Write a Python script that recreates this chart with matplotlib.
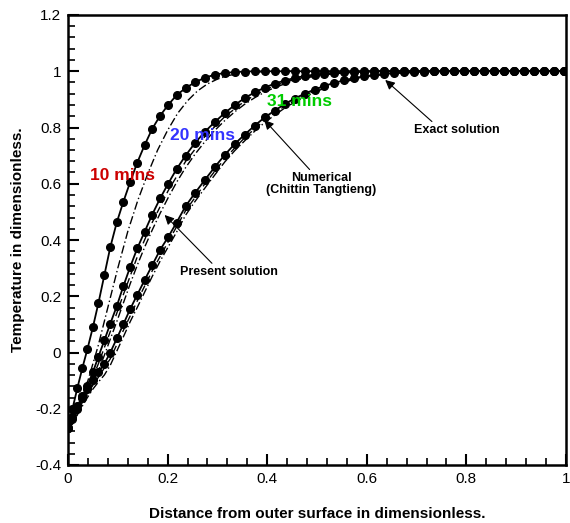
import matplotlib
matplotlib.use("Agg")
import matplotlib.pyplot as plt
from matplotlib.ticker import MultipleLocator

plt.rcParams['font.family'] = ['Liberation Sans', 'DejaVu Sans']

# Marker grid (shared by the dotted curves)
x_grid = [0.0, 0.009, 0.019, 0.029, 0.039, 0.050, 0.061, 0.073, 0.085, 0.098,
          0.111, 0.125, 0.139, 0.154, 0.169, 0.185, 0.201, 0.218, 0.236, 0.255,
          0.275, 0.295, 0.315, 0.335, 0.355, 0.375, 0.395, 0.415, 0.435, 0.455,
          0.475, 0.495, 0.515, 0.535, 0.555, 0.575, 0.595, 0.615, 0.635, 0.655,
          0.675, 0.695, 0.715, 0.735, 0.755, 0.775, 0.795, 0.815, 0.835, 0.855,
          0.875, 0.895, 0.915, 0.935, 0.955, 0.975, 0.995, 1.0]

num_10 = [-0.27, -0.20, -0.125, -0.054, 0.012, 0.09, 0.175, 0.275, 0.375, 0.463,
          0.535, 0.607, 0.675, 0.738, 0.795, 0.842, 0.88, 0.915, 0.94, 0.961,
          0.977, 0.988, 0.994, 0.997, 0.999, 1.0, 1.0, 1.0, 1.0, 1.0,
          1.0, 1.0, 1.0, 1.0, 1.0, 1.0, 1.0, 1.0, 1.0, 1.0,
          1.0, 1.0, 1.0, 1.0, 1.0, 1.0, 1.0, 1.0, 1.0, 1.0,
          1.0, 1.0, 1.0, 1.0, 1.0, 1.0, 1.0, 1.0]

num_20 = [-0.27, -0.23, -0.19, -0.155, -0.118, -0.07, -0.015, 0.043, 0.103, 0.165,
          0.235, 0.305, 0.37, 0.43, 0.49, 0.548, 0.60, 0.652, 0.70, 0.745,
          0.785, 0.82, 0.852, 0.88, 0.905, 0.925, 0.942, 0.956, 0.967, 0.976,
          0.983, 0.988, 0.992, 0.995, 0.997, 0.998, 0.999, 1.0, 1.0, 1.0,
          1.0, 1.0, 1.0, 1.0, 1.0, 1.0, 1.0, 1.0, 1.0, 1.0,
          1.0, 1.0, 1.0, 1.0, 1.0, 1.0, 1.0, 1.0]

num_31 = [-0.27, -0.237, -0.20, -0.163, -0.13, -0.097, -0.07, -0.04, 0.0, 0.05,
          0.10, 0.155, 0.205, 0.258, 0.31, 0.365, 0.41, 0.462, 0.52, 0.567,
          0.614, 0.66, 0.703, 0.742, 0.775, 0.807, 0.836, 0.86, 0.883, 0.903,
          0.92, 0.935, 0.948, 0.959, 0.968, 0.976, 0.982, 0.987, 0.991, 0.994,
          0.996, 0.998, 0.999, 1.0, 1.0, 1.0, 1.0, 1.0, 1.0, 1.0,
          1.0, 1.0, 1.0, 1.0, 1.0, 1.0, 1.0, 1.0]

# Present solution (dash-dot)
pres_10_x = [0.0, 0.02, 0.04, 0.06, 0.08, 0.10, 0.12, 0.14, 0.16, 0.18, 0.20,
             0.22, 0.24, 0.26, 0.28, 0.30, 0.32, 0.34, 0.36, 0.40, 0.45, 1.0]
pres_10_y = [-0.27, -0.18, -0.10, 0.02, 0.16, 0.30, 0.43, 0.54, 0.635, 0.72, 0.79,
             0.85, 0.895, 0.93, 0.955, 0.972, 0.984, 0.991, 0.996, 0.999, 1.0, 1.0]

pres_20_x = [0.0, 0.009, 0.019, 0.029, 0.039, 0.050, 0.061, 0.073, 0.085, 0.098,
             0.111, 0.125, 0.139, 0.154, 0.169, 0.185, 0.201, 0.218, 0.236, 0.255,
             0.275, 0.295, 0.315, 0.335, 0.355, 0.375, 0.395, 0.415, 0.435, 0.455,
             0.475, 0.495, 0.515, 0.535, 0.555, 0.575, 0.595, 0.635, 0.70, 1.0]
pres_20_y = [-0.27, -0.255, -0.22, -0.185, -0.15, -0.11, -0.065, -0.01, 0.048, 0.11,
             0.175, 0.245, 0.31, 0.375, 0.435, 0.495, 0.55, 0.605, 0.657, 0.705,
             0.75, 0.79, 0.825, 0.856, 0.883, 0.906, 0.926, 0.942, 0.955, 0.966,
             0.975, 0.982, 0.987, 0.991, 0.994, 0.996, 0.998, 0.999, 1.0, 1.0]

pres_31_x = [0.0, 0.009, 0.019, 0.029, 0.039, 0.050, 0.061, 0.073, 0.085, 0.098,
             0.111, 0.125, 0.139, 0.154, 0.169, 0.185, 0.201, 0.218, 0.236, 0.255,
             0.275, 0.295, 0.315, 0.335, 0.355, 0.375, 0.395, 0.415, 0.435, 0.455,
             0.475, 0.495, 0.515, 0.535, 0.555, 0.575, 0.595, 0.615, 0.635, 0.655,
             0.675, 0.695, 0.715, 0.755, 0.80, 1.0]
pres_31_y = [-0.27, -0.25, -0.22, -0.19, -0.16, -0.13, -0.105, -0.08, -0.045, 0.005,
             0.055, 0.11, 0.16, 0.215, 0.27, 0.325, 0.375, 0.428, 0.488, 0.537,
             0.585, 0.632, 0.678, 0.718, 0.753, 0.787, 0.818, 0.844, 0.869, 0.89,
             0.909, 0.925, 0.94, 0.952, 0.962, 0.971, 0.978, 0.984, 0.988, 0.992,
             0.994, 0.996, 0.998, 0.999, 1.0, 1.0]

# Exact solution (dashed)
exact_20_x = [0.0, 0.019, 0.039, 0.061, 0.085, 0.111, 0.139, 0.169, 0.201, 0.236,
              0.275, 0.315, 0.355, 0.395, 0.435, 0.475, 0.515, 0.555, 0.595, 0.65, 1.0]
exact_20_y = [-0.27, -0.205, -0.135, -0.04, 0.075, 0.205, 0.34, 0.462, 0.575, 0.679,
              0.768, 0.839, 0.894, 0.934, 0.961, 0.979, 0.99, 0.996, 0.999, 1.0, 1.0]

exact_31_x = [0.0, 0.019, 0.039, 0.061, 0.085, 0.111, 0.139, 0.169, 0.201, 0.236,
              0.275, 0.315, 0.355, 0.395, 0.435, 0.475, 0.515, 0.555, 0.595, 0.635,
              0.675, 0.715, 0.77, 1.0]
exact_31_y = [-0.27, -0.21, -0.145, -0.088, -0.022, 0.078, 0.183, 0.29, 0.393, 0.504,
              0.60, 0.69, 0.764, 0.827, 0.876, 0.915, 0.944, 0.965, 0.98, 0.99,
              0.995, 0.998, 1.0, 1.0]

x_ticks = [0, 0.2, 0.4, 0.6, 0.8, 1]
x_tick_labels = ["0", "0.2", "0.4", "0.6", "0.8", "1"]
y_ticks = [-0.4, -0.2, 0, 0.2, 0.4, 0.6, 0.8, 1, 1.2]
y_tick_labels = ["-0.4", "-0.2", "0", "0.2", "0.4", "0.6", "0.8", "1", "1.2"]

fig = plt.figure(figsize=(5.70, 5.23), dpi=100)
ax = fig.add_axes([68 / 570, 1 - 465 / 523, 498 / 570, 450 / 523])

for xs, ys in [(pres_10_x, pres_10_y), (pres_20_x, pres_20_y), (pres_31_x, pres_31_y)]:
    ax.plot(xs, ys, color='black', lw=1.0, linestyle=(0, (6, 2, 1, 2)))
for xs, ys in [(exact_20_x, exact_20_y), (exact_31_x, exact_31_y)]:
    ax.plot(xs, ys, color='black', lw=1.0, linestyle=(0, (5, 3)))
for ys in [num_10, num_20, num_31]:
    ax.plot(x_grid, ys, color='black', lw=1.3, marker='o', markersize=5.5,
            markerfacecolor='black', markeredgecolor='black')

ax.set_xlim(0, 1)
ax.set_ylim(-0.4, 1.2)
ax.set_xticks(x_ticks)
ax.set_xticklabels(x_tick_labels)
ax.set_yticks(y_ticks)
ax.set_yticklabels(y_tick_labels)
ax.xaxis.set_minor_locator(MultipleLocator(0.04))
ax.yaxis.set_minor_locator(MultipleLocator(0.04))
ax.tick_params(which='both', direction='in', top=False, right=False, width=1.5,
               labelsize=11, pad=5)
ax.tick_params(which='major', length=8)
ax.tick_params(which='minor', length=5, width=1.2)
for s in ax.spines.values():
    s.set_linewidth(1.8)

ax.set_xlabel("Distance from outer surface in dimensionless.", fontsize=11,
              fontweight='bold', labelpad=15)
ax.set_ylabel("Temperature in dimensionless.", fontsize=11, fontweight='bold',
              labelpad=7)

ax.text(0.11, 0.631, "10 mins", color='#cc0000', fontsize=12.5, fontweight='bold',
        ha='center', va='center')
ax.text(0.27, 0.771, "20 mins", color='#3333ff', fontsize=12.5, fontweight='bold',
        ha='center', va='center')
ax.text(0.464, 0.894, "31 mins", color='#00cc00', fontsize=12.5, fontweight='bold',
        ha='center', va='center')

arrow = dict(arrowstyle='-|>', color='black', lw=0.8, mutation_scale=14,
             shrinkA=0, shrinkB=0)
ax.annotate("Exact solution", xy=(0.637, 0.969), xytext=(0.78, 0.79),
            fontsize=9, fontweight='bold', ha='center', va='center',
            arrowprops=dict(arrow, relpos=(0.25, 1.0)))
ax.annotate("Numerical\n(Chittin Tangtieng)", xy=(0.394, 0.827), xytext=(0.508, 0.598),
            fontsize=9, fontweight='bold', ha='center', va='center',
            linespacing=1.0, arrowprops=dict(arrow, relpos=(0.42, 1.0)))
ax.annotate("Present solution", xy=(0.194, 0.489), xytext=(0.324, 0.286),
            fontsize=9, fontweight='bold', ha='center', va='center',
            arrowprops=dict(arrow, relpos=(0.35, 1.0)))

fig.savefig("out.png", dpi=100)
